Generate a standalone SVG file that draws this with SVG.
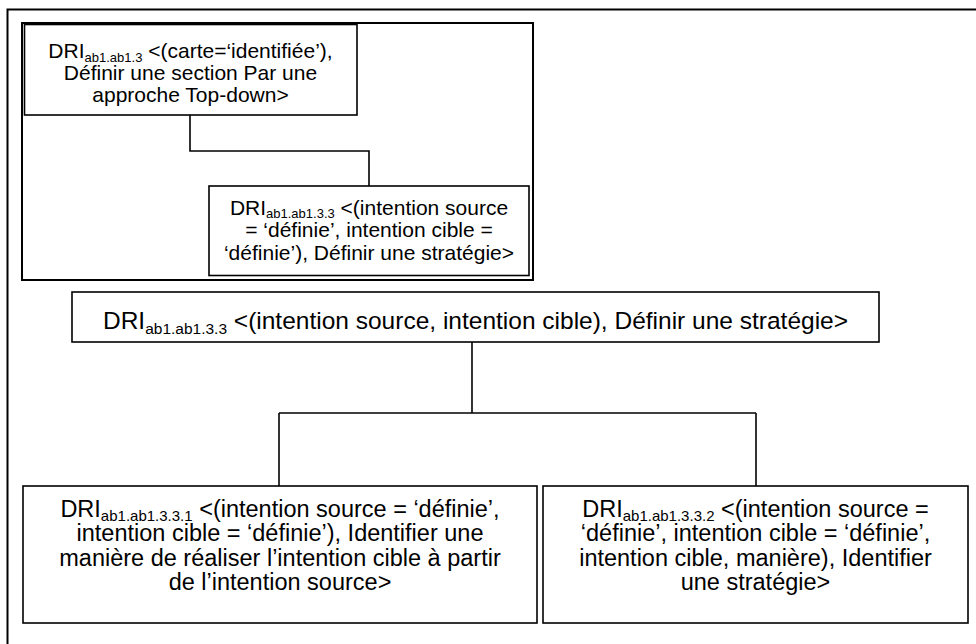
<svg xmlns="http://www.w3.org/2000/svg" width="976" height="644" viewBox="0 0 976 644">
<style>
.box{fill:#fff;stroke:#000;stroke-width:1.6}
.frame{fill:none;stroke:#000;stroke-width:2}
.con{fill:none;stroke:#000;stroke-width:1.6}
text{font-family:"Liberation Sans",Arial,sans-serif;fill:#000;text-anchor:middle}
.s{font-size:21px}
.m{font-size:24.5px}
.b{font-size:23.5px}
</style>
<rect width="976" height="644" fill="#fff"/>
<g id="outer-frame"><path class="frame" d="M7.5,700 V9.5 H1000"/></g>
<g id="inner-frame"><rect class="frame" x="22" y="23" width="511" height="257"/></g>
<g id="connectors">
<path class="con" d="M190,115 V151 H369 V186"/>
<path class="con" d="M472,342 V413"/>
<path class="con" d="M279,413 H756"/>
<path class="con" d="M279,413 V486"/>
<path class="con" d="M756,413 V486"/>
</g>
<g id="n1">
<rect class="box" x="24.5" y="24.5" width="332.5" height="90.5"/>
<text class="s" x="190.5" y="58">DRI<tspan font-size="13" dy="3.5">ab1.ab1.3</tspan><tspan dy="-3.5"> &lt;(carte=‘identifiée’),</tspan></text>
<text class="s" x="190.5" y="80">Définir une section Par une</text>
<text class="s" x="190.5" y="102">approche Top-down&gt;</text>
</g>
<g id="n2">
<rect class="box" x="209" y="186" width="320" height="89.5"/>
<text class="s" x="369" y="214.5">DRI<tspan font-size="13" dy="3.5">ab1.ab1.3.3</tspan><tspan dy="-3.5"> &lt;(intention source</tspan></text>
<text class="s" x="369" y="237">= ‘définie’, intention cible =</text>
<text class="s" x="369" y="259.5">‘définie’), Définir une stratégie&gt;</text>
</g>
<g id="n3">
<rect class="box" x="72" y="292" width="807" height="50"/>
<text class="m" x="475.5" y="329">DRI<tspan font-size="15.5" dy="5">ab1.ab1.3.3</tspan><tspan dy="-5"> &lt;(intention source, intention cible), Définir une stratégie&gt;</tspan></text>
</g>
<g id="n4">
<rect class="box" x="23" y="486" width="514" height="137"/>
<text class="b" x="280" y="516.5">DRI<tspan font-size="15" dy="4">ab1.ab1.3.3.1</tspan><tspan dy="-4"> &lt;(intention source = ‘définie’,</tspan></text>
<text class="b" x="280" y="541">intention cible = ‘définie’), Identifier une</text>
<text class="b" x="280" y="565.5">manière de réaliser l’intention cible à partir</text>
<text class="b" x="280" y="590">de l’intention source&gt;</text>
</g>
<g id="n5">
<rect class="box" x="543" y="486" width="425" height="137"/>
<text class="b" x="755.5" y="516.5">DRI<tspan font-size="15" dy="4">ab1.ab1.3.3.2</tspan><tspan dy="-4"> &lt;(intention source =</tspan></text>
<text class="b" x="755.5" y="541">‘définie’, intention cible = ‘définie’,</text>
<text class="b" x="755.5" y="565.5">intention cible, manière), Identifier</text>
<text class="b" x="755.5" y="590">une stratégie&gt;</text>
</g>
</svg>
